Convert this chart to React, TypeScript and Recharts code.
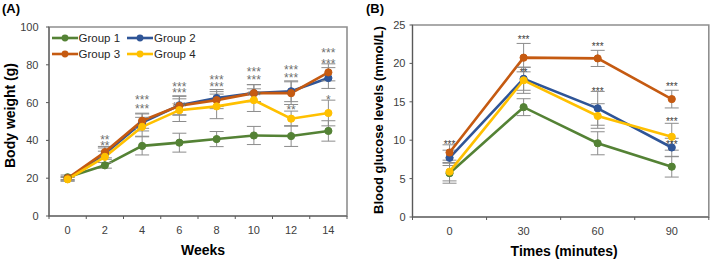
import React from 'react';
import { LineChart, Line, XAxis, YAxis, ErrorBar, ReferenceDot, ReferenceArea } from 'recharts';

// ---------- Data ----------
const seriesNames = ['Group 1', 'Group 2', 'Group 3', 'Group 4'];
const seriesColors = ['#548235', '#2F5597', '#C55A11', '#FFC000'];

// Panel A: body weight (g) by week
const weeks = [0, 2, 4, 6, 8, 10, 12, 14];
const weightG1 = [20.5, 26.8, 37.1, 38.8, 40.7, 42.6, 42.3, 45.0];
const weightG2 = [19.6, 33.0, 49.5, 58.6, 62.4, 65.0, 66.0, 73.0];
const weightG3 = [20.0, 33.8, 50.4, 58.3, 61.3, 65.0, 65.0, 76.0];
const weightG4 = [19.4, 31.3, 47.2, 56.0, 58.0, 61.3, 51.5, 54.5];
const weightErrG1 = [1.2, 1.5, 4.8, 5.0, 4.0, 4.8, 5.5, 5.4];
const weightErrG2 = [1.0, 3.0, 4.5, 5.0, 4.5, 4.5, 5.5, 5.5];
const weightErrG3 = [1.0, 3.0, 4.0, 5.0, 4.5, 4.5, 6.0, 4.5];
const weightErrG4 = [1.0, 3.0, 5.0, 6.0, 6.5, 6.0, 4.0, 6.8];
const weekLabels = [0, 2, 4, 6, 8, 10, 12, 14];
const weekSeparators = [-1, 1, 3, 5, 7, 9, 11, 13, 15];
const weightTicks = [0, 20, 40, 60, 80, 100];
const starsA = [
  { x: 2, y: 41.6, t: '**' }, { x: 2, y: 38.8, t: '**' },
  { x: 4, y: 62.8, t: '***' }, { x: 4, y: 58.4, t: '***' },
  { x: 6, y: 69.8, t: '***' }, { x: 6, y: 66.7, t: '***' }, { x: 6, y: 59.3, t: '***' },
  { x: 8, y: 73.4, t: '***' }, { x: 8, y: 69.8, t: '***' },
  { x: 10, y: 77.6, t: '***' }, { x: 10, y: 73.4, t: '***' }, { x: 10, y: 64.9, t: '***' },
  { x: 12, y: 79.0, t: '***' }, { x: 12, y: 74.8, t: '***' }, { x: 12, y: 57.8, t: '**' },
  { x: 14, y: 87.8, t: '***' }, { x: 14, y: 82.2, t: '***' }, { x: 14, y: 63.1, t: '*' },
];

// Panel B: blood glucose (mmol/L) by time
const times = [0, 30, 60, 90];
const glucoseG1 = [5.7, 14.3, 9.6, 6.55];
const glucoseG2 = [7.7, 18.0, 14.15, 9.05];
const glucoseG3 = [8.4, 20.75, 20.65, 15.35];
const glucoseG4 = [5.9, 17.8, 13.15, 10.45];
const glucoseErrG1 = [1.3, 1.1, 1.5, 1.35];
const glucoseErrG2 = [1.0, 1.5, 2.2, 1.2];
const glucoseErrG3 = [1.0, 1.85, 1.05, 1.15];
const glucoseErrG4 = [1.2, 1.7, 1.6, 1.75];
const timeLabels = [0, 30, 60, 90];
const timeSeparators = [-15, 15, 45, 75, 105];
const glucoseTicks = [0, 5, 10, 15, 20, 25];
const starsB = [
  { x: 0, y: 9.8, t: '***' }, { x: 0, y: 7.7, t: '**' },
  { x: 30, y: 23.4, t: '***' }, { x: 30, y: 19.1, t: '**' },
  { x: 60, y: 22.5, t: '***' }, { x: 60, y: 16.7, t: '***' }, { x: 60, y: 13.3, t: '*' },
  { x: 90, y: 17.3, t: '***' }, { x: 90, y: 12.7, t: '***' }, { x: 90, y: 9.8, t: '***' },
];

// ---------- Tables ----------
const rowsA = weeks.map((w, i) => ({
  x: w,
  s0: weightG1[i], e0: weightErrG1[i],
  s1: weightG2[i], e1: weightErrG2[i],
  s2: weightG3[i], e2: weightErrG3[i],
  s3: weightG4[i], e3: weightErrG4[i],
}));
const rowsB = times.map((t, i) => ({
  x: t,
  s0: glucoseG1[i], e0: glucoseErrG1[i],
  s1: glucoseG2[i], e1: glucoseErrG2[i],
  s2: glucoseG3[i], e2: glucoseErrG3[i],
  s3: glucoseG4[i], e3: glucoseErrG4[i],
}));

type Star = { x: number; y: number; t: string };
const groupStars = (stars: Star[]) => {
  const map = new Map<number, Star[]>();
  stars.forEach((s) => {
    if (!map.has(s.x)) map.set(s.x, []);
    map.get(s.x)!.push(s);
  });
  return Array.from(map.entries()).map(([x, list]) => {
    const sorted = [...list].sort((a, b) => b.y - a.y);
    return { x, top: sorted[0].y, rows: sorted };
  });
};

const FONT = '"Liberation Sans", Arial, Helvetica, sans-serif';
const AXIS = '#595959';
const TEXT = '#404040';
const FRAME = '#8f8f8f';
const ERR = '#8c8c8c';

// plot geometry (layout constants)
const A_PLOT_H = 189;
const B_PLOT_H = 192;

const makeXTick = (labels: number[]) => (props: any) => {
  const { x, y, payload } = props;
  const v = payload.value;
  if (labels.includes(v)) {
    return (
      <text x={x} y={y + 17.5} textAnchor="middle" fontSize={11} fill={TEXT} fontFamily={FONT}>
        {v}
      </text>
    );
  }
  return <line x1={x} x2={x} y1={y} y2={y + 3} stroke={AXIS} strokeWidth={1} />;
};

const makeYTitle = (text: string, bx: number, dy: number, size: number) => (props: any) => {
  const vb = props.viewBox || {};
  const cy = vb.y + vb.height / 2 + dy;
  return (
    <text
      x={bx}
      y={cy}
      transform={`rotate(-90, ${bx}, ${cy})`}
      textAnchor="middle"
      fontWeight="bold"
      fontSize={size}
      fill="#000"
      fontFamily={FONT}
    >
      {text}
    </text>
  );
};

const makeXTitle = (text: string, dx: number, baseline: number, size: number) => (props: any) => {
  const vb = props.viewBox || {};
  const cx = vb.x + vb.width / 2 + dx;
  return (
    <text x={cx} y={baseline} textAnchor="middle" fontWeight="bold" fontSize={size} fill="#000" fontFamily={FONT}>
      {text}
    </text>
  );
};

const starShape = (group: { top: number; rows: Star[] }, pxPerUnit: number, size: number, fill: string) => (props: any) => (
  <text textAnchor="middle" fontSize={size} fill={fill} fontFamily={FONT}>
    {group.rows.map((r, k) => (
      <tspan key={k} x={props.cx} y={props.cy + (group.top - r.y) * pxPerUnit + size * 0.58}>
        {r.t}
      </tspan>
    ))}
  </text>
);

const renderSeries = () =>
  seriesNames.map((name, i) => (
    <Line
      key={name}
      type="linear"
      dataKey={`s${i}`}
      name={name}
      stroke={seriesColors[i]}
      strokeWidth={2.6}
      dot={{ r: 3.6, fill: seriesColors[i], stroke: seriesColors[i], strokeWidth: 1 }}
      isAnimationActive={false}
    >
      <ErrorBar dataKey={`e${i}`} direction="y" width={7} stroke={ERR} strokeWidth={1} />
    </Line>
  ));

const LegendOverlay = () => {
  const cols = [51.5, 127];
  const rows = [38.3, 54.3];
  return (
    <>
      {seriesNames.map((name, i) => {
        const left = cols[i % 2];
        const top = rows[Math.floor(i / 2)];
        return (
          <div
            key={name}
            style={{
              position: 'absolute',
              left,
              top: top - 8,
              height: 16,
              display: 'flex',
              alignItems: 'center',
              fontFamily: FONT,
              fontSize: 11.5,
              color: '#262626',
              whiteSpace: 'nowrap',
            }}
          >
            <svg width={26} height={16} style={{ display: 'block' }}>
              <line x1={0} x2={26} y1={8} y2={8} stroke={seriesColors[i]} strokeWidth={2.6} />
              <circle cx={13} cy={8} r={3.4} fill={seriesColors[i]} />
            </svg>
            <span style={{ marginLeft: 1 }}>{name}</span>
          </div>
        );
      })}
    </>
  );
};

export default function App() {
  const groupsA = groupStars(starsA);
  const groupsB = groupStars(starsB);
  return (
    <div style={{ position: 'absolute', left: 0, top: 0, width: 712, height: 263, background: '#fff', overflow: 'hidden' }}>
      {/* Panel A */}
      <div style={{ position: 'absolute', left: 0, top: 0 }}>
        <LineChart width={360} height={263} data={rowsA} margin={{ top: 27, right: 13, bottom: 0, left: 0 }}>
          <XAxis
            dataKey="x"
            type="number"
            domain={[-1, 15]}
            ticks={[...weekSeparators, ...weekLabels].sort((a, b) => a - b)}
            interval={0}
            tickLine={false}
            tickSize={0}
            tickMargin={0}
            height={47}
            stroke={AXIS}
            tick={makeXTick(weekLabels)}
            label={{ content: makeXTitle('Weeks', 5, 255, 14) } as any}
          />
          <YAxis
            type="number"
            domain={[0, 100]}
            ticks={weightTicks}
            interval={0}
            width={49}
            tickSize={3}
            tickMargin={7.5}
            stroke={AXIS}
            tick={{ fontSize: 11, fill: TEXT, fontFamily: FONT }}
            label={{ content: makeYTitle('Body weight (g)', 15.3, -6, 14) } as any}
          />
          <ReferenceArea x1={-1} x2={15} y1={0} y2={100} fill="none" stroke={FRAME} strokeWidth={1.6} />
          {renderSeries()}
          {groupsA.map((g) => (
            <ReferenceDot
              key={`a${g.x}`}
              x={g.x}
              y={g.top}
              r={0}
              shape={starShape(g, A_PLOT_H / 100, 12, '#6f6f6f')}
            />
          ))}
        </LineChart>
        <LegendOverlay />
      </div>
      {/* Panel B */}
      <div style={{ position: 'absolute', left: 360, top: 0 }}>
        <LineChart width={352} height={263} data={rowsB} margin={{ top: 25, right: 3.2, bottom: 0, left: 0 }}>
          <XAxis
            dataKey="x"
            type="number"
            domain={[-15, 105]}
            ticks={[...timeSeparators, ...timeLabels].sort((a, b) => a - b)}
            interval={0}
            tickLine={false}
            tickSize={0}
            tickMargin={0}
            height={46}
            stroke={AXIS}
            tick={makeXTick(timeLabels)}
            label={{ content: makeXTitle('Times (minutes)', 3.5, 256, 14) } as any}
          />
          <YAxis
            type="number"
            domain={[0, 25]}
            ticks={glucoseTicks}
            interval={0}
            width={52.5}
            tickSize={3}
            tickMargin={4}
            stroke={AXIS}
            tick={{ fontSize: 11, fill: TEXT, fontFamily: FONT }}
            label={{ content: makeYTitle('Blood glucose levels (mmol/L)', 22.6, -1, 13) } as any}
          />
          <ReferenceArea x1={-15} x2={105} y1={0} y2={25} fill="none" stroke={FRAME} strokeWidth={1.6} />
          {renderSeries()}
          {groupsB.map((g) => (
            <ReferenceDot
              key={`b${g.x}`}
              x={g.x}
              y={g.top}
              r={0}
              shape={starShape(g, B_PLOT_H / 25, 10, '#404040')}
            />
          ))}
        </LineChart>
      </div>
      <div style={{ position: 'absolute', left: 2, top: 2, fontFamily: FONT, fontWeight: 'bold', fontSize: 13, lineHeight: '13px' }}>(A)</div>
      <div style={{ position: 'absolute', left: 366, top: 2, fontFamily: FONT, fontWeight: 'bold', fontSize: 13, lineHeight: '13px' }}>(B)</div>
    </div>
  );
}
